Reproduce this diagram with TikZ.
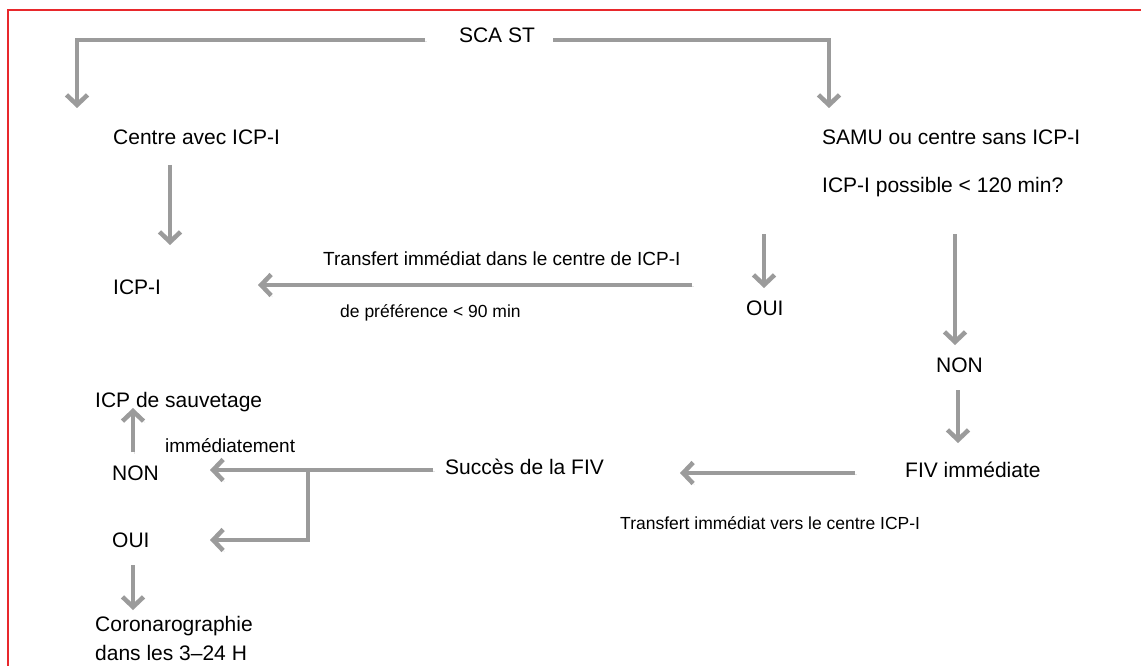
\documentclass[tikz,border=0pt]{standalone}
\usepackage{fontspec}
\setmainfont{Liberation Sans}
\usetikzlibrary{arrows.meta}
\definecolor{arrgray}{RGB}{155,155,155}
\definecolor{framered}{RGB}{232,40,44}
\tikzset{
  big/.style={inner sep=0pt, font=\fontsize{21}{25}\selectfont},
  mid/.style={inner sep=0pt, font=\fontsize{19}{23}\selectfont},
  sml/.style={inner sep=0pt, font=\fontsize{17.5}{21}\selectfont},
  arr/.style={draw=arrgray, line width=4.5pt, -{Straight Barb[length=10pt,width=21pt]},
    preaction={draw=black!10, transform canvas={shift={(1.5pt,-1.5pt)}}}}
}
\begin{document}
\begin{tikzpicture}[x=1pt,y=-1pt]
\useasboundingbox (0,0) rectangle (1141,666);
\fill[white] (0,0) rectangle (1141,666);
% frame
\draw[framered, line width=1.6pt] (8,700) -- (8,10) -- (1160,10);
% texts
\node[big, anchor=base] (sca) at (497,42.5) {SCA ST};
\node[big, anchor=base west] (cav) at (113,144.5) {Centre avec ICP-I};
\node[big, anchor=base west] (samu) at (822,144.5) {SAMU ou centre sans ICP-I};
\node[big, anchor=base west] (poss) at (822,192.5) {ICP-I possible < 120 min?};
\node[mid, anchor=base west] (trd) at (323,265) {Transfert immédiat dans le centre de ICP-I};
\node[big, anchor=base west] (icpi) at (113,294.5) {ICP-I};
\node[sml, anchor=base west] (pref) at (340,317) {de préférence < 90 min};
\node[big, anchor=base west] (ouir) at (746,315.5) {OUI};
\node[big, anchor=base west] (nonr) at (936,372.5) {NON};
\node[big, anchor=base west] (fiv) at (905,477.5) {FIV immédiate};
\node[sml, anchor=base west] (trv) at (620,529) {Transfert immédiat vers le centre ICP-I};
\node[big, anchor=base west] (succ) at (445,474.5) {Succès de la FIV};
\node[big, anchor=base west] (nonl) at (112,480.5) {NON};
\node[big, anchor=base west] (ouil) at (112,547.5) {OUI};
\node[big, anchor=base west] (sauv) at (95,407.5) {ICP de sauvetage};
\node[mid, anchor=base west] (imm) at (165,452) {immédiatement};
\node[big, anchor=base west] (coro) at (95,631) {Coronarographie};
\node[big, anchor=base west] (dans) at (95,660) {dans les 3–24 H};
% connector coordinates
\coordinate (tl) at (425,40);
\coordinate (tlc) at (77,40);
\coordinate (tle) at (77,108);
\coordinate (tr) at (553,40);
\coordinate (trc) at (829,40);
\coordinate (tre) at (829,108);
\coordinate (c1s) at (170,165);
\coordinate (c1e) at (170,245);
\coordinate (h1s) at (692,285);
\coordinate (h1e) at (258,285);
\coordinate (o1s) at (764,234);
\coordinate (o1e) at (764,288);
\coordinate (n1s) at (955,234);
\coordinate (n1e) at (955,345);
\coordinate (n2s) at (958,390);
\coordinate (n2e) at (958,443);
\coordinate (f1s) at (855,473);
\coordinate (f1e) at (680,473);
\coordinate (s1s) at (433,470);
\coordinate (s1e) at (210,470);
\coordinate (br) at (308,470);
\coordinate (brd) at (308,540);
\coordinate (s2e) at (210,540);
\coordinate (u1s) at (133,452);
\coordinate (u1e) at (133,408);
\coordinate (d1s) at (133,565);
\coordinate (d1e) at (133,610);
% connectors
\draw[arr] (tl) -- (tlc) -- (tle);
\draw[arr] (tr) -- (trc) -- (tre);
\draw[arr] (c1s) -- (c1e);
\draw[arr] (h1s) -- (h1e);
\draw[arr] (o1s) -- (o1e);
\draw[arr] (n1s) -- (n1e);
\draw[arr] (n2s) -- (n2e);
\draw[arr] (f1s) -- (f1e);
\draw[arr] (s1s) -- (s1e);
\draw[arr] (br) -- (brd) -- (s2e);
\draw[arr] (u1s) -- (u1e);
\draw[arr] (d1s) -- (d1e);
\end{tikzpicture}
\end{document}
